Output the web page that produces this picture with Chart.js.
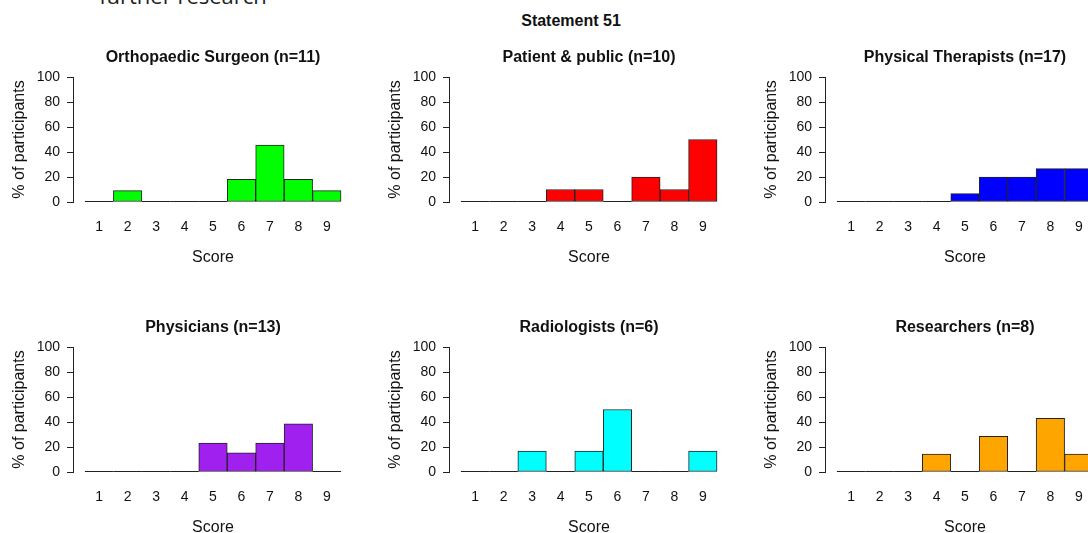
<!DOCTYPE html>
<html>
<head>
<meta charset="utf-8">
<script src="https://cdn.jsdelivr.net/npm/chart.js@4"></script>
<style>
  html, body { margin: 0; padding: 0; background: #fff; }
  body { width: 1088px; height: 533px; overflow: hidden; position: relative; }
  .panel { position: absolute; width: 375px; height: 240px; }
  .txt { position: absolute; white-space: nowrap; color: #111; }
  #further { font-family: "Open Sans", sans-serif; font-size: 22px; line-height: 22px; top: -16px; left: 183px; transform: translateX(-50%); color: #222; }
  #statement { font-family: "Liberation Sans", Arial, sans-serif; font-weight: bold; font-size: 16px; line-height: 16px; top: 13px; left: 571px; transform: translateX(-50%); }
</style>
</head>
<body>
<div class="txt" id="further">further research</div>
<div class="txt" id="statement">Statement 51</div>

<div class="panel" style="left:-1px; top:37px"><canvas id="c0" width="375" height="240"></canvas></div>
<div class="panel" style="left:375px; top:37px"><canvas id="c1" width="375" height="240"></canvas></div>
<div class="panel" style="left:751px; top:37px"><canvas id="c2" width="375" height="240"></canvas></div>
<div class="panel" style="left:-1px; top:307px"><canvas id="c3" width="375" height="240"></canvas></div>
<div class="panel" style="left:375px; top:307px"><canvas id="c4" width="375" height="240"></canvas></div>
<div class="panel" style="left:751px; top:307px"><canvas id="c5" width="375" height="240"></canvas></div>

<script>
// scores on the x axis
var scores = [1, 2, 3, 4, 5, 6, 7, 8, 9];
var yTicks = [0, 20, 40, 60, 80, 100];

// % of participants per score, one array per group
var orthoPct     = [0, 9.1, 0, 0, 0, 18.2, 45.5, 18.2, 9.1];
var patientPct   = [0, 0, 0, 10, 10, 0, 20, 10, 50];
var physioPct    = [0, 0, 0, 0, 6.7, 20, 20, 26.7, 26.7];
var physicianPct = [0, 0, 0, 0, 23.1, 15.4, 23.1, 38.5, 0];
var radioPct     = [0, 0, 16.7, 0, 16.7, 50, 0, 0, 16.7];
var researchPct  = [0, 0, 0, 14.3, 0, 28.6, 0, 42.9, 14.3];

var groupTitles = ['Orthopaedic Surgeon (n=11)', 'Patient & public (n=10)', 'Physical Therapists (n=17)',
                   'Physicians (n=13)', 'Radiologists (n=6)', 'Researchers (n=8)'];
var groupValues = [orthoPct, patientPct, physioPct, physicianPct, radioPct, researchPct];
var groupColors = ['#00FF00', '#FF0000', '#0000FF', '#A020F0', '#00FFFF', '#FFA500'];

var FONT = '"Liberation Sans", Arial, sans-serif';
var INK = '#111';

// zero-height bars still show their outline as a line on the baseline
var zeroLine = {
  id: 'zeroLine',
  afterDatasetsDraw: function(chart){
    var meta = chart.getDatasetMeta(0);
    var vals = chart.data.datasets[0].data;
    var ctx = chart.ctx;
    ctx.save();
    ctx.strokeStyle = '#222';
    ctx.lineWidth = 1;
    meta.data.forEach(function(el, i){
      if (vals[i].y !== 0) return;
      var p = el.getProps(['x', 'y', 'width'], true);
      var y = Math.round(p.y) - 0.5;
      ctx.beginPath();
      ctx.moveTo(p.x - p.width / 2, y);
      ctx.lineTo(p.x + p.width / 2, y);
      ctx.stroke();
    });
    ctx.restore();
  }
};

function createChart(idx){
  var ctx = document.getElementById('c' + idx).getContext('2d');
  return new Chart(ctx, {
    type: 'bar',
    data: {
      datasets: [{
        data: scores.map(function(s, i){ return {x: s, y: groupValues[idx][i]}; }),
        backgroundColor: groupColors[idx],
        borderColor: '#222',
        borderWidth: 1,
        borderSkipped: false,
        barPercentage: 1,
        categoryPercentage: 1
      }]
    },
    options: {
      responsive: false,
      animation: false,
      devicePixelRatio: 1,
      layout: { padding: { left: 0, right: 21, top: 0, bottom: 9.4 } },
      plugins: {
        legend: { display: false },
        tooltip: { enabled: false },
        title: {
          display: true,
          text: groupTitles[idx],
          fullSize: false,
          color: INK,
          font: { family: FONT, size: 16, weight: 'bold' },
          padding: { top: 11.4, bottom: 9.4 }
        }
      },
      scales: {
        x: {
          type: 'linear',
          offset: false,
          min: 0.08,
          max: 9.92,
          grid: { display: false, drawTicks: false },
          border: { display: false },
          ticks: {
            stepSize: 1,
            includeBounds: false,
            autoSkip: false,
            maxRotation: 0,
            padding: 16.6,
            color: INK,
            font: { family: FONT, size: 14 }
          },
          title: {
            display: true,
            text: 'Score',
            color: INK,
            font: { family: FONT, size: 16 },
            padding: { top: 0, bottom: 0 }
          },
          afterFit: function(scale){ scale.height = 65.6; }
        },
        y: {
          min: 0,
          max: 100,
          afterBuildTicks: function(scale){
            scale.ticks = yTicks.map(function(v){ return {value: v}; });
          },
          grid: { drawOnChartArea: false, drawTicks: true, tickLength: 6, color: '#222' },
          border: { display: true, color: '#222', width: 1 },
          ticks: {
            padding: 7,
            color: INK,
            font: { family: FONT, size: 14 }
          },
          title: {
            display: true,
            text: '% of participants',
            color: INK,
            font: { family: FONT, size: 16 },
            padding: { top: 11, bottom: 0 }
          },
          afterFit: function(scale){ scale.width = 74; }
        }
      }
    },
    plugins: [zeroLine]
  });
}

var charts = [];
for (var i = 0; i < 6; i++) {
  charts.push(createChart(i));
}
</script>
</body>
</html>
